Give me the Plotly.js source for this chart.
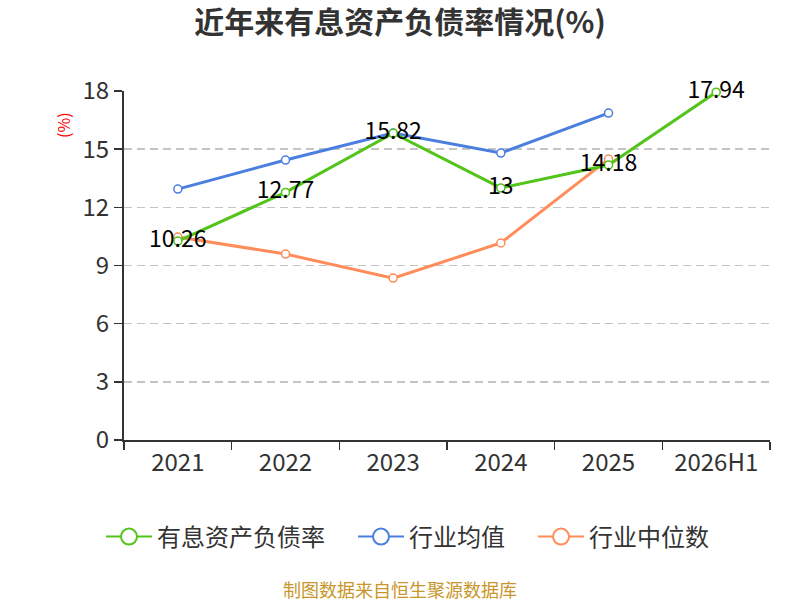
<!DOCTYPE html>
<html>
<head>
<meta charset="utf-8">
<script src="https://cdn.plot.ly/plotly-3.0.1.min.js"></script>
<style>
  html, body { margin: 0; padding: 0; background: #fff; }
  #chart { width: 800px; height: 600px; }
</style>
</head>
<body>
<div id="chart"></div>
<script>
// data
var years = ['2021', '2022', '2023', '2024', '2025', '2026H1'];
var debtRatio = [10.26, 12.77, 15.82, 13, 14.18, 17.94];
var industryMean = [12.94, 14.44, 15.83, 14.80, 16.86, null];
var industryMedian = [10.47, 9.59, 8.35, 10.16, 14.49, null];
var seriesNames = ['有息资产负债率', '行业均值', '行业中位数'];
var colors = ['#52c41a', '#4a7fe0', '#ff8c5a'];

var FONT = '"Noto Sans CJK SC", "Microsoft YaHei", sans-serif';

// plot area in pixels: x 124..770, y 91..440
function px(x) { return (x - 124) / 646; }
function py(y) { return (440 - y) / 349; }

function lineTrace(y, i, withText) {
  var t = {
    x: years,
    y: y,
    type: 'scatter',
    mode: withText ? 'lines+markers+text' : 'lines+markers',
    name: seriesNames[i],
    showlegend: false,
    line: { color: colors[i], width: 3 },
    marker: { symbol: 'circle', size: 8, color: '#fff', line: { color: colors[i], width: 1.5 } },
    cliponaxis: false,
    hoverinfo: 'x+y'
  };
  if (withText) {
    t.text = y.map(function (v) { return String(v); });
    t.textposition = 'middle center';
    t.textfont = { family: FONT, size: 23, color: '#000' };
  }
  return t;
}

// legend-only copies, one legend box each so the gaps match
function legendTrace(i) {
  return {
    x: [null], y: [null],
    type: 'scatter',
    mode: 'lines+markers',
    name: seriesNames[i],
    legend: i === 0 ? 'legend' : 'legend' + (i + 1),
    line: { color: colors[i], width: 2 },
    marker: { symbol: 'circle', size: 16, color: '#fff', line: { color: colors[i], width: 2 } }
  };
}

var traces = [
  lineTrace(industryMedian, 2, false),
  lineTrace(industryMean, 1, false),
  lineTrace(debtRatio, 0, true),
  legendTrace(0), legendTrace(1), legendTrace(2)
];

function legendBox(leftPx) {
  return {
    orientation: 'h',
    x: px(leftPx), xanchor: 'left',
    y: py(537), yanchor: 'middle',
    font: { family: FONT, size: 24, color: '#333' },
    itemwidth: 46,
    bgcolor: 'rgba(0,0,0,0)'
  };
}

var layout = {
  width: 800,
  height: 600,
  margin: { l: 124, r: 30, t: 91, b: 160 },
  paper_bgcolor: '#fff',
  plot_bgcolor: '#fff',
  font: { family: FONT, color: '#333' },
  title: {
    text: '<b>近年来有息资产负债率情况(%)</b>',
    font: { family: FONT, size: 30, color: '#333' },
    x: 0.5, xanchor: 'center',
    y: 0.962, yanchor: 'middle'
  },
  xaxis: {
    type: 'category',
    range: [-0.5, 5.5],
    tickson: 'boundaries',
    ticks: 'outside',
    ticklen: 8,
    tickwidth: 1.5,
    tickcolor: '#333',
    showline: true,
    linecolor: '#333',
    linewidth: 2,
    showgrid: false,
    zeroline: false,
    tickfont: { family: FONT, size: 24, color: '#333' },
    fixedrange: true
  },
  yaxis: {
    range: [0, 18],
    tickvals: [0, 3, 6, 9, 12, 15, 18],
    ticks: 'outside',
    ticklen: 8,
    tickwidth: 1.5,
    tickcolor: '#333',
    showline: true,
    linecolor: '#333',
    linewidth: 2,
    showgrid: true,
    gridcolor: '#c4c4c4',
    griddash: '8px,5px',
    gridwidth: 1.5,
    zeroline: false,
    tickfont: { family: FONT, size: 24, color: '#333' },
    fixedrange: true
  },
  legend: legendBox(101),
  legend2: legendBox(353),
  legend3: legendBox(533),
  annotations: [
    {
      text: '(%)',
      xref: 'paper', yref: 'paper',
      x: px(63), y: py(125),
      xanchor: 'center', yanchor: 'middle',
      textangle: -90,
      showarrow: false,
      font: { family: FONT, size: 16, color: '#ff0000' }
    },
    {
      text: '制图数据来自恒生聚源数据库',
      xref: 'paper', yref: 'paper',
      x: px(400), y: py(589),
      xanchor: 'center', yanchor: 'middle',
      showarrow: false,
      font: { family: FONT, size: 18, color: '#c8962a' }
    }
  ],
  showlegend: true
};

Plotly.newPlot('chart', traces, layout, { displayModeBar: false, staticPlot: true });
</script>
</body>
</html>
